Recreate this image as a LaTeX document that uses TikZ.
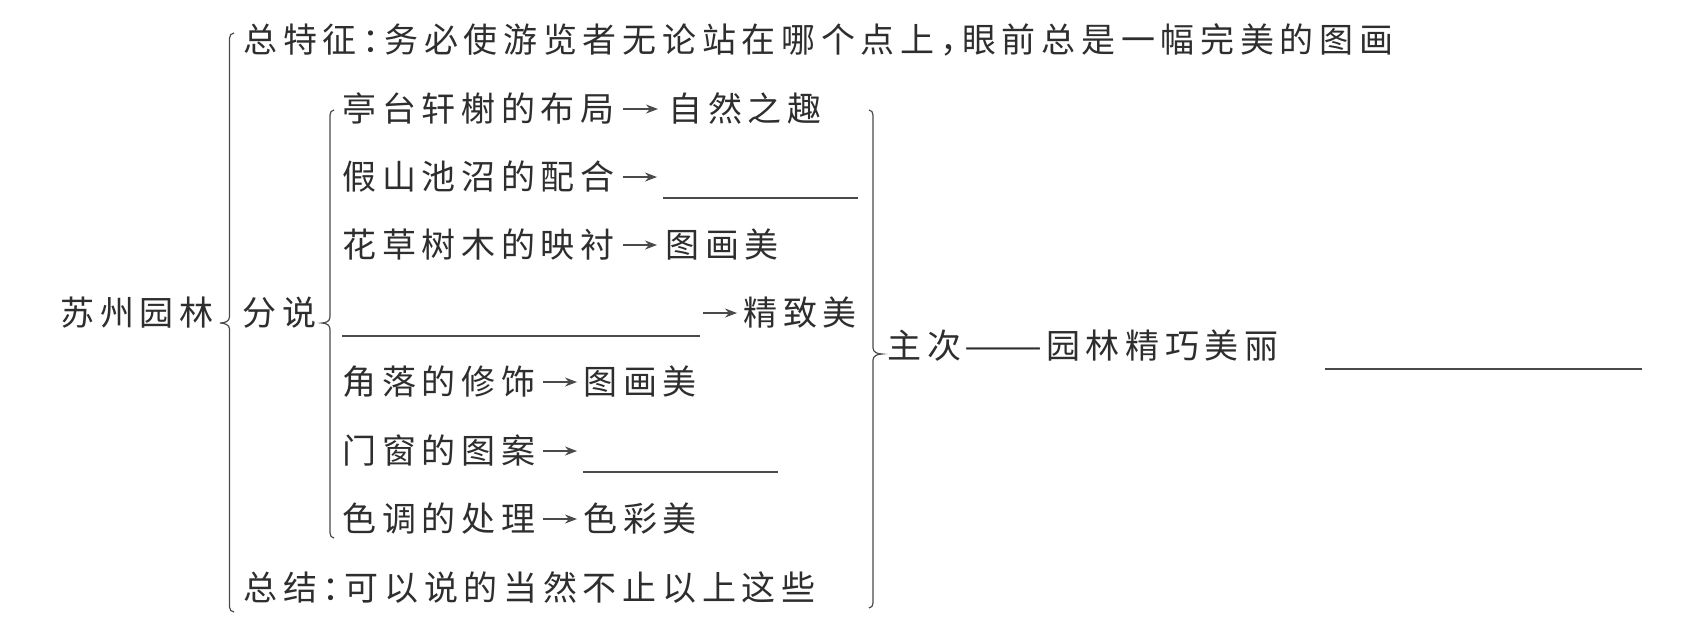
\documentclass[tikz,border=0pt]{standalone}
\usepackage{fontspec}
\usepackage{graphicx}
\setmainfont{Noto Sans CJK SC}
\usetikzlibrary{arrows.meta}
\definecolor{ink}{HTML}{2E2E2E}
\definecolor{ln}{HTML}{4A4A4A}
\newlength\cjp \setlength\cjp{19.85pt}
\newcommand\cj[1]{\cjloop#1\relax}
\def\cjloop#1{\ifx#1\relax\else\makebox[\cjp][l]{#1}\expandafter\cjloop\fi}
\newcommand\np[1]{\makebox[11pt][l]{#1}}
\tikzset{
  txt/.style={inner sep=0pt, anchor=west, text height=14.1pt, text depth=1.2pt,
    text=ink, font=\fontsize{17pt}{20pt}\selectfont},
  arr/.style={draw=ln, line width=0.6pt, -{Stealth[length=6pt,width=4.5pt]}},
  br/.style={draw=ln, line width=0.6pt},
  blank/.style={draw=ln, line width=0.75pt}
}
\begin{document}
\begin{tikzpicture}[x=0.5pt,y=-0.5pt]
\useasboundingbox (0,0) rectangle (1695,623);
% texts
\node[txt] (top) at (243,40) {\cj{总特征}\np{：}\cj{务必使游览者无论站在哪个点上}\np{，}\cj{眼前总是一幅完美的图画}};
\node[txt] (sz) at (60,313) {\cj{苏州园林}};
\node[txt] (fs) at (242,313) {\cj{分说}};
\node[txt] (r1) at (342,109) {\cj{亭台轩榭的布局}};
\node[txt] (e1) at (668,109) {\cj{自然之趣}};
\node[txt] (r2) at (342,177) {\cj{假山池沼的配合}};
\coordinate (b2s) at (663,198); \coordinate (b2e) at (858,198);
\node[txt] (r3) at (342,245) {\cj{花草树木的映衬}};
\node[txt] (e3) at (665,245) {\cj{图画美}};
\coordinate (b4s) at (342,336); \coordinate (b4e) at (700,336);
\coordinate (a4) at (703,313);
\node[txt] (e4) at (743,313) {\cj{精致美}};
\node[txt] (r5) at (342,382) {\cj{角落的修饰}};
\node[txt] (e5) at (583,382) {\cj{图画美}};
\node[txt] (r6) at (342,451) {\cj{门窗的图案}};
\coordinate (b6s) at (583,472); \coordinate (b6e) at (778,472);
\node[txt] (r7) at (342,519) {\cj{色调的处理}};
\node[txt] (e7) at (583,519) {\cj{色彩美}};
\node[txt] (sum) at (243,588) {\cj{总结}\np{：}\cj{可以说的当然不止以上这些}};
\node[txt] (zc) at (887,346) {\cj{主次}\makebox[2\cjp][c]{\hspace{-3pt}\scalebox{1.37}[1]{——}}\cj{园林精巧美丽}};
\coordinate (b9s) at (1325,369); \coordinate (b9e) at (1642,369);
% blanks
\draw[blank] (b2s) -- (b2e);
\draw[blank] (b4s) -- (b4e);
\draw[blank] (b6s) -- (b6e);
\draw[blank] (b9s) -- (b9e);
% arrows
\draw[arr, shorten <=1pt, shorten >=5pt] (r1.east) -- (e1.west);
\draw[arr, shorten <=1pt, shorten >=3pt] (r2.east) -- (r2.east -| b2s);
\draw[arr, shorten <=1pt, shorten >=4pt] (r3.east) -- (e3.west);
\draw[arr, shorten >=3pt] (a4) -- (e4.west);
\draw[arr, shorten <=1pt, shorten >=3pt] (r5.east) -- (e5.west);
\draw[arr, shorten <=1pt, shorten >=3pt] (r6.east) -- (r6.east -| b6s);
\draw[arr, shorten <=1pt, shorten >=3pt] (r7.east) -- (e7.west);
% braces
\draw[br] (234,33) to[out=180,in=90] (229.5,38) -- (229.5,317) to[out=-90,in=0] (220,323)
  to[out=0,in=90] (229.5,329) -- (229.5,607) to[out=-90,in=180] (234,612);
\draw[br] (334,110) to[out=180,in=90] (330,115) -- (330,317) to[out=-90,in=0] (322,323)
  to[out=0,in=90] (330,329) -- (330,533) to[out=-90,in=180] (334,538);
\draw[br] (869,110) to[out=0,in=90] (873,115) -- (873,348) to[out=-90,in=180] (882,354)
  to[out=180,in=90] (873,360) -- (873,603) to[out=-90,in=0] (869,608);
\end{tikzpicture}
\end{document}
